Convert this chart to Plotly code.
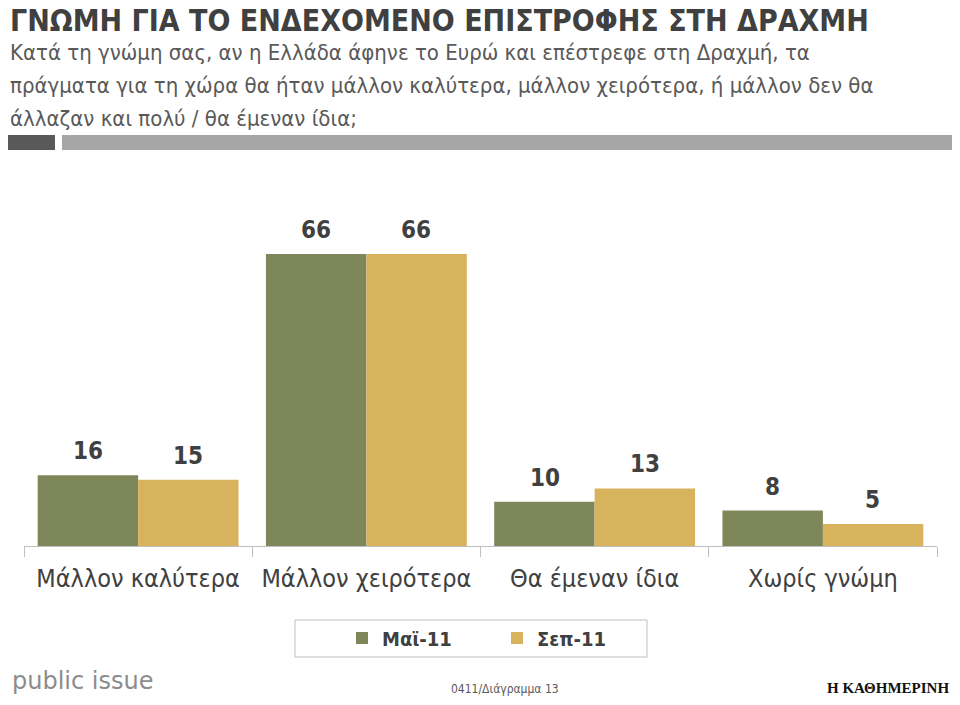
import plotly.graph_objects as go

categories = ["Μάλλον καλύτερα", "Μάλλον χειρότερα", "Θα έμεναν ίδια", "Χωρίς γνώμη"]
series_names = ["Μαϊ-11", "Σεπ-11"]
may_values = [16, 66, 10, 8]
sep_values = [15, 66, 13, 5]
colors = ["#7E8759", "#D8B35E"]

FONT = "Liberation Sans Narrow, DejaVu Sans Condensed, sans-serif"
TXT = "#404040"

OFF = 8  # page body margin
W, H = 960 - 2 * OFF, 705 - 2 * OFF
# plot area in reference window pixels: x 24..937, baseline y 546, top y 192
L = 24 - OFF
R = W - (937 - OFF)
T = 192 - OFF
B = H - (546 - OFF)
PW, PH = W - L - R, H - T - B

def px(x):
    return (x - OFF - L) / PW

def py(y):
    return (H - B - (y - OFF)) / PH

fig = go.Figure()
for name, vals, col in zip(series_names, [may_values, sep_values], colors):
    fig.add_trace(go.Bar(x=categories, y=vals, name="<b>" + name + "</b>", marker_color=col,
                         marker_line_width=0))

# value labels
for vals, shift in [(may_values, -50), (sep_values, 50)]:
    for c, v in zip(categories, vals):
        fig.add_annotation(x=c, y=v, text="<b>" + str(v) + "</b>", showarrow=False, xshift=shift,
                           yanchor="bottom", yshift=8,
                           font=dict(family=FONT, size=24, color=TXT))

fig.update_layout(
    width=W, height=H,
    margin=dict(l=L, r=R, t=T, b=B, autoexpand=False),
    paper_bgcolor="white", plot_bgcolor="white",
    barmode="group", bargap=0.12, bargroupgap=0,
    showlegend=True,
    legend=dict(orientation="h", x=px(497), xanchor="center", y=py(638), yanchor="middle",
                font=dict(family=FONT, size=20, color=TXT),
                entrywidth=110, bgcolor="rgba(0,0,0,0)", itemsizing="constant"),
    xaxis=dict(showline=True, linecolor="#BFBFBF", linewidth=1,
               ticks="outside", tickson="boundaries", ticklen=10, tickcolor="#BFBFBF",
               tickfont=dict(family=FONT, size=25, color=TXT), ticklabelstandoff=10,
               showgrid=False, zeroline=False),
    yaxis=dict(range=[0, 80], visible=False, showgrid=False, zeroline=False),
    font=dict(family=FONT, color=TXT),
)

# title and question
fig.add_annotation(xref="paper", yref="paper", x=px(8), y=py(21), xanchor="left", yanchor="middle",
                   text="<b>ΓΝΩΜΗ ΓΙΑ ΤΟ ΕΝΔΕΧΟΜΕΝΟ ΕΠΙΣΤΡΟΦΗΣ ΣΤΗ ΔΡΑΧΜΗ</b>",
                   showarrow=False, font=dict(family=FONT, size=30, color=TXT))
sub_lines = ["Κατά τη γνώμη σας, αν η Ελλάδα άφηνε το Ευρώ και επέστρεφε στη Δραχμή, τα",
             "πράγματα για τη χώρα θα ήταν μάλλον καλύτερα, μάλλον χειρότερα, ή μάλλον δεν θα",
             "άλλαζαν και πολύ / θα έμεναν ίδια;"]
for k, line in enumerate(sub_lines):
    fig.add_annotation(xref="paper", yref="paper", x=px(8), y=py(52 + 33 * k),
                       xanchor="left", yanchor="middle", text=line, showarrow=False,
                       font=dict(family=FONT, size=22, color="#595959"))

# decorative bars
fig.add_shape(type="rect", xref="paper", yref="paper", x0=px(8), x1=px(55), y0=py(150), y1=py(135),
              fillcolor="#595959", line_width=0)
fig.add_shape(type="rect", xref="paper", yref="paper", x0=px(62), x1=px(958), y0=py(150), y1=py(135),
              fillcolor="#A6A6A6", line_width=0)

# legend box
fig.add_shape(type="rect", xref="paper", yref="paper", x0=px(295), x1=px(647), y0=py(657), y1=py(620),
              fillcolor="rgba(0,0,0,0)", line=dict(color="#BFBFBF", width=1))

# footer
fig.add_annotation(xref="paper", yref="paper", x=px(505), y=py(689), xanchor="center", yanchor="middle",
                   text="0411/Διάγραμμα 13", showarrow=False,
                   font=dict(family=FONT, size=12, color="#595959"))
fig.add_annotation(xref="paper", yref="paper", x=px(10), y=py(681), xanchor="left", yanchor="middle",
                   text="public issue", showarrow=False,
                   font=dict(family="DejaVu Sans, sans-serif", size=24, color="#8C8C8C"))
fig.add_annotation(xref="paper", yref="paper", x=px(951), y=py(688), xanchor="right", yanchor="middle",
                   text="<b>Η ΚΑΘΗΜΕΡΙΝΗ</b>", showarrow=False,
                   font=dict(family="Liberation Serif, serif", size=15, color="#111111"))

fig.write_html("out.html")
